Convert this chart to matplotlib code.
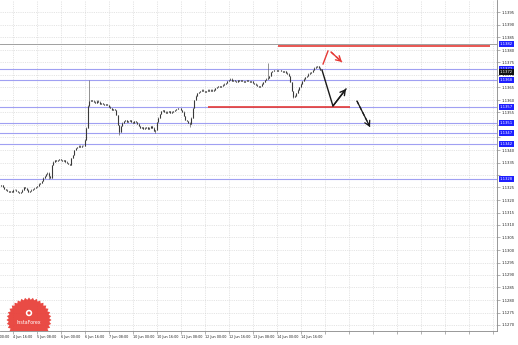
import numpy as np
import matplotlib
matplotlib.use("Agg")
import matplotlib.pyplot as plt
from matplotlib.patches import Polygon, Circle
import matplotlib.transforms as mtransforms

# ---------------- data ----------------
closes = [
    1.13260, 1.13252, 1.13244, 1.13240, 1.13236, 1.13232, 1.13236, 1.13232, 1.13240, 1.13240,
    1.13236, 1.13232, 1.13228, 1.13232, 1.13240, 1.13252, 1.13248, 1.13240, 1.13232, 1.13236,
    1.13240, 1.13244, 1.13248, 1.13252, 1.13256, 1.13264, 1.13268, 1.13276, 1.13288, 1.13296,
    1.13304, 1.13308, 1.13296, 1.13288, 1.13340, 1.13352, 1.13360, 1.13356, 1.13360, 1.13364,
    1.13360, 1.13356, 1.13360, 1.13352, 1.13348, 1.13344, 1.13340, 1.13368, 1.13380, 1.13400,
    1.13408, 1.13412, 1.13416, 1.13412, 1.13416, 1.13416, 1.13440, 1.13488, 1.13576, 1.13596,
    1.13600, 1.13596, 1.13592, 1.13588, 1.13596, 1.13592, 1.13584, 1.13588, 1.13584, 1.13580,
    1.13584, 1.13580, 1.13572, 1.13568, 1.13560, 1.13564, 1.13560, 1.13540, 1.13500, 1.13472,
    1.13496, 1.13508, 1.13516, 1.13520, 1.13512, 1.13516, 1.13520, 1.13512, 1.13508, 1.13516,
    1.13512, 1.13504, 1.13496, 1.13488, 1.13492, 1.13484, 1.13488, 1.13492, 1.13484, 1.13488,
    1.13496, 1.13488, 1.13476, 1.13480, 1.13512, 1.13528, 1.13544, 1.13556, 1.13560, 1.13552,
    1.13548, 1.13552, 1.13556, 1.13548, 1.13552, 1.13556, 1.13560, 1.13564, 1.13568, 1.13568,
    1.13560, 1.13552, 1.13536, 1.13520, 1.13516, 1.13508, 1.13504, 1.13528, 1.13568, 1.13600,
    1.13616, 1.13628, 1.13632, 1.13636, 1.13640, 1.13636, 1.13632, 1.13636, 1.13640, 1.13636,
    1.13640, 1.13636, 1.13640, 1.13648, 1.13652, 1.13656, 1.13652, 1.13656, 1.13660, 1.13664,
    1.13668, 1.13676, 1.13680, 1.13684, 1.13676, 1.13680, 1.13676, 1.13672, 1.13680, 1.13676,
    1.13680, 1.13676, 1.13672, 1.13676, 1.13680, 1.13676, 1.13672, 1.13676, 1.13668, 1.13664,
    1.13660, 1.13656, 1.13652, 1.13656, 1.13664, 1.13672, 1.13680, 1.13684, 1.13688, 1.13696,
    1.13712, 1.13716, 1.13720, 1.13720, 1.13716, 1.13720, 1.13720, 1.13716, 1.13712, 1.13716,
    1.13708, 1.13704, 1.13696, 1.13672, 1.13636, 1.13612, 1.13616, 1.13628, 1.13640, 1.13652,
    1.13664, 1.13676, 1.13684, 1.13692, 1.13696, 1.13704, 1.13708, 1.13712, 1.13720, 1.13728,
    1.13732, 1.13736, 1.13728, 1.13720,
]
first_open = 1.13256
# notable wick extremes (bar index -> price)
spike_highs = {59: 1.13680, 178: 1.13748}
spike_lows = {32: 1.13284, 79: 1.13460, 103: 1.13468, 126: 1.13492, 195: 1.13608}

time_labels = ["4 Jun 00:00", "4 Jun 16:00", "5 Jun 08:00", "6 Jun 00:00", "6 Jun 16:00",
               "7 Jun 08:00", "10 Jun 00:00", "10 Jun 16:00", "11 Jun 08:00", "12 Jun 00:00",
               "12 Jun 16:00", "13 Jun 08:00", "14 Jun 00:00", "14 Jun 16:00"]

blue_levels = [1.13724, 1.13680, 1.13572, 1.13508, 1.13468, 1.13424, 1.13284]
gray_level = 1.13824
red_top = (1.13816, 184.7, 326.0)      # price, from bar, to bar
red_bottom = (1.13572, 138.0, 232.7)

# forecast arrows (bar, price)
black_path = [(214.0, 1.13720), (221.3, 1.13576), (230.0, 1.13644)]
black_dashed = [(237.3, 1.13596), (246.0, 1.13492)]
red_solid = [(214.7, 1.13744), (218.0, 1.13796)]
red_dashed = [(220.0, 1.13792), (227.3, 1.13752)]

y_ticks = np.round(np.arange(1.1270, 1.13951, 0.0005), 4)

# ---------------- figure ----------------
W, H = 518, 345
fig = plt.figure(figsize=(W / 100, H / 100), dpi=100)
fig.patch.set_facecolor("white")
ax_rect = [0, 14 / H, 497 / W, 331 / H]
ax = fig.add_axes(ax_rect)
ax.set_facecolor("white")

ax.set_xlim(-0.667, 330.67)
ax.set_ylim(1.12676, 1.14000)

FS = 2.7
XFS = 2.45
# x ticks / grid (every 16 bars)
xt = np.arange(8, 331, 16)
ax.set_xticks(xt)
ax.set_xticklabels([time_labels[i + 1] if i + 1 < len(time_labels) else "" for i in range(len(xt))],
                   fontsize=XFS, ha="left", color="#222222")
# partially visible first label (left of the plot)
xtrans = mtransforms.blended_transform_factory(ax.transData, ax.transAxes)
ax.text(-7.5, -0.012, time_labels[0], transform=xtrans, fontsize=XFS, ha="left", va="top",
        color="#222222", clip_on=False)

# right-axis price boxes levels
box_levels = [gray_level] + blue_levels
ax.set_yticks(y_ticks)
ylabels = []
for v in y_ticks:
    near = any(abs(v - b) < 0.00018 for b in box_levels + [closes[-1]])
    ylabels.append("" if near else f"{v:.4f}")
ax.set_yticklabels(ylabels, fontsize=FS, color="#222222")
ax.yaxis.tick_right()
ax.tick_params(axis="both", length=2, width=0.4, color="#777777", pad=1)
ax.grid(True, color="#cfcfcf", lw=0.4, ls=(0, (2, 2)))
ax.set_axisbelow(True)
for s in ["left", "top"]:
    ax.spines[s].set_visible(False)
for s in ["right", "bottom"]:
    ax.spines[s].set_color("#888888")
    ax.spines[s].set_linewidth(0.6)

# horizontal levels
ax.axhline(gray_level, color="#a0a0a0", lw=0.7, zorder=2)
for lv in blue_levels:
    ax.axhline(lv, color="#a0a0f2", lw=0.8, zorder=2)
ax.hlines(red_top[0], red_top[1], red_top[2], color="#e53935", lw=1.2, zorder=3)
ax.hlines(red_bottom[0], red_bottom[1], red_bottom[2], color="#e53935", lw=1.2, zorder=3)

# candles
n = len(closes)
idx = np.arange(n)
opens = [first_open] + closes[:-1]
highs = [max(o, c) + 0.00002 for o, c in zip(opens, closes)]
lows = [min(o, c) - 0.00002 for o, c in zip(opens, closes)]
for k, v in spike_highs.items():
    highs[k] = v
for k, v in spike_lows.items():
    lows[k] = v
ax.vlines(idx, lows, highs, color="#555555", lw=0.45, zorder=4)
body_lo = [min(o, c) for o, c in zip(opens, closes)]
body_hi = [max(o, c) + 0.00001 for o, c in zip(opens, closes)]
ax.vlines(idx, body_lo, body_hi, color="#3a3a3a", lw=0.8, zorder=4)

# forecast arrows
ax.plot([p[0] for p in black_path], [p[1] for p in black_path], color="#1a1a1a", lw=1.0, zorder=5)
ax.annotate("", xy=black_path[-1], xytext=black_path[-2],
            arrowprops=dict(arrowstyle="->,head_length=0.35,head_width=0.2", color="#1a1a1a",
                            lw=1.0, shrinkA=0, shrinkB=0), zorder=6)
ax.plot([p[0] for p in black_dashed], [p[1] for p in black_dashed], color="#1a1a1a", lw=0.9,
        ls=(0, (3, 2)), zorder=5)
ax.annotate("", xy=black_dashed[-1], xytext=black_dashed[-2],
            arrowprops=dict(arrowstyle="->,head_length=0.35,head_width=0.2", color="#1a1a1a",
                            lw=0.9, shrinkA=0, shrinkB=0), zorder=6)
ax.plot([p[0] for p in red_solid], [p[1] for p in red_solid], color="#e53935", lw=1.0, zorder=5)
ax.plot([p[0] for p in red_dashed], [p[1] for p in red_dashed], color="#e53935", lw=1.0,
        ls=(0, (3, 2)), zorder=5)
ax.annotate("", xy=red_dashed[-1], xytext=red_dashed[-2],
            arrowprops=dict(arrowstyle="->,head_length=0.35,head_width=0.2", color="#e53935",
                            lw=1.0, shrinkA=0, shrinkB=0), zorder=6)

# right-axis price boxes
trans = mtransforms.blended_transform_factory(ax.transAxes, ax.transData)
for lv in box_levels:
    ax.text(1.006, lv, f"{lv:.4f}", transform=trans, fontsize=FS, color="white",
            ha="left", va="center", clip_on=False, zorder=7,
            bbox=dict(boxstyle="square,pad=0.3", fc="#1f1fff", ec="none"))
ax.text(1.006, closes[-1] - 0.00009, f"{closes[-1]:.4f}", transform=trans, fontsize=FS,
        color="white", ha="left", va="center", clip_on=False, zorder=8,
        bbox=dict(boxstyle="square,pad=0.3", fc="#111111", ec="none"))

# logo overlay (pixel units)
lax = fig.add_axes(ax_rect)
lax.set_xlim(0, 497)
lax.set_ylim(331, 0)
lax.axis("off")
lax.patch.set_visible(False)
cx, cy = 29, 320
spikes = 36
ang = np.linspace(0, 2 * np.pi, 2 * spikes, endpoint=False)
rad = np.where(np.arange(2 * spikes) % 2 == 0, 22.5, 20.3)
star = Polygon(np.column_stack([cx + rad * np.cos(ang), cy + rad * np.sin(ang)]),
               closed=True, fc="#e8413b", ec="none", alpha=0.95)
lax.add_patch(star)
lax.add_patch(Circle((cx, cy - 7), 3.2, fc="white", ec="none"))
lax.add_patch(Circle((cx, cy - 7), 1.6, fc="#e8413b", ec="none"))
lax.text(cx, cy + 2.5, "InstaForex", color="white", fontsize=3.4, ha="center", va="center")

fig.savefig("out.png", dpi=100)
